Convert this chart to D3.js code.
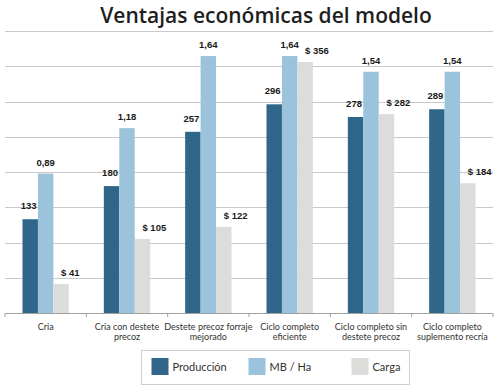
<!DOCTYPE html>
<html>
<head>
<meta charset="utf-8">
<script src="https://cdn.jsdelivr.net/npm/d3@7"></script>
<style>
    body { margin: 0; background: #ffffff; }
    svg { display: block; }
</style>
</head>
<body>
<div id="chart"></div>
<script>
// category labels, one entry per line
var categories = [
    ["Cria"],
    ["Cria con destete", "precoz"],
    ["Destete precoz forraje", "mejorado"],
    ["Ciclo completo", "eficiente"],
    ["Ciclo completo sin", "destete precoz"],
    ["Ciclo completo", "suplemento recría"]
];
var seriesNames = ["Producción", "MB / Ha", "Carga"];
var produccion = [133, 180, 257, 296, 278, 289];
var mbHa = [0.89, 1.18, 1.64, 1.64, 1.54, 1.54];
var carga = [41, 105, 122, 356, 282, 184];
var gridTicks = [0, 50, 100, 150, 200, 250, 300, 350, 400];

var colors = ["#2f6689", "#9cc3dc", "#dcdcdb"];

var width = 500, height = 388;
var svg = d3.select("#chart").append("svg")
    .attr("width", width)
    .attr("height", height);

var x0 = d3.scaleBand()
    .domain(d3.range(categories.length))
    .range([5, 493]);

var bw = x0.bandwidth();
var x1 = d3.scaleBand()
    .domain(seriesNames)
    .range([bw * 0.215, bw * 0.785]);

// produccion and carga share one scale, MB/Ha has its own
var y = d3.scaleLinear().domain([0, 400]).range([313, 31]);
var yMB = d3.scaleLinear().domain([0, 1.8]).range([313, 31]);

svg.append("text")
    .attr("x", 266)
    .attr("y", 23)
    .attr("text-anchor", "middle")
    .attr("font-family", "Open Sans")
    .attr("font-weight", 600)
    .attr("font-size", 21)
    .attr("fill", "#1e1e1e")
    .text("Ventajas económicas del modelo");

// gridlines
svg.append("g").selectAll("line")
    .data(gridTicks.slice(1))
    .enter().append("line")
    .attr("x1", 5)
    .attr("x2", 493)
    .attr("y1", function(d) { return Math.round(y(d)) + 0.5; })
    .attr("y2", function(d) { return Math.round(y(d)) + 0.5; })
    .attr("stroke", "#c9c9c9")
    .attr("stroke-width", 1);

var rows = categories.map(function(c, i) {
    return [
        {series: 0, i: i, value: produccion[i], top: y(produccion[i]), label: String(produccion[i])},
        {series: 1, i: i, value: mbHa[i], top: yMB(mbHa[i]), label: mbHa[i].toFixed(2).replace(".", ",")},
        {series: 2, i: i, value: carga[i], top: y(carga[i]), label: "$ " + carga[i]}
    ];
});

var groups = svg.append("g").selectAll("g")
    .data(rows)
    .enter().append("g")
    .attr("transform", function(d, i) { return "translate(" + x0(i) + ",0)"; });

groups.selectAll("rect")
    .data(function(d) { return d; })
    .enter().append("rect")
    .attr("x", function(d) { return x1(seriesNames[d.series]); })
    .attr("width", x1.bandwidth())
    .attr("y", function(d) { return d.top; })
    .attr("height", function(d) { return 313 - d.top; })
    .attr("fill", function(d) { return colors[d.series]; });

groups.selectAll("text")
    .data(function(d) { return d; })
    .enter().append("text")
    .attr("x", function(d) {
        var cx = x1(seriesNames[d.series]) + x1.bandwidth() / 2;
        if (d.series == 0) return cx - 1.5;
        return cx;
    })
    .attr("y", function(d) { return d.top - (d.series == 0 ? 10 : 8); })
    .attr("text-anchor", function(d) { return d.series == 2 ? "start" : "middle"; })
    .attr("font-family", "Liberation Sans, Arial")
    .attr("font-weight", "bold")
    .attr("font-size", 9.5)
    .attr("fill", "#1a1a1a")
    .text(function(d) { return d.label; });

// x axis
var xAxis = svg.append("g");
xAxis.append("line")
    .attr("x1", 5).attr("x2", 493)
    .attr("y1", 313.5).attr("y2", 313.5)
    .attr("stroke", "#a0a0a0");
xAxis.selectAll(".tick")
    .data(d3.range(categories.length + 1))
    .enter().append("line")
    .attr("class", "tick")
    .attr("x1", function(i) { return 5 + i * bw; })
    .attr("x2", function(i) { return 5 + i * bw; })
    .attr("y1", 313.5).attr("y2", 317)
    .attr("stroke", "#a0a0a0");

var catLabels = xAxis.selectAll(".cat")
    .data(categories)
    .enter().append("text")
    .attr("class", "cat")
    .attr("text-anchor", "middle")
    .attr("font-family", "Lato")
    .attr("font-size", 9)
    .attr("fill", "#333333")
    .attr("transform", function(d, i) { return "translate(" + (x0(i) + bw / 2) + ",329.5)"; });

catLabels.selectAll("tspan")
    .data(function(d) { return d; })
    .enter().append("tspan")
    .attr("x", 0)
    .attr("dy", function(d, j) { return j == 0 ? 0 : 10.8; })
    .text(function(d) { return d; });

// legend
var legend = svg.append("g");
legend.append("rect")
    .attr("x", 141.5).attr("y", 350.5)
    .attr("width", 268).attr("height", 34)
    .attr("fill", "#ffffff")
    .attr("stroke", "#cfcfcf");

var legendX = [151.5, 248.5, 351.5];
var items = legend.selectAll(".item")
    .data(seriesNames)
    .enter().append("g")
    .attr("class", "item")
    .attr("transform", function(d, i) { return "translate(" + legendX[i] + ",358)"; });

items.append("rect")
    .attr("width", 17)
    .attr("height", 17)
    .attr("fill", function(d, i) { return colors[i]; });

items.append("text")
    .attr("x", 21)
    .attr("y", 12.5)
    .attr("font-family", "Lato")
    .attr("font-size", 11)
    .attr("fill", "#333333")
    .text(function(d) { return d; });
</script>
</body>
</html>
